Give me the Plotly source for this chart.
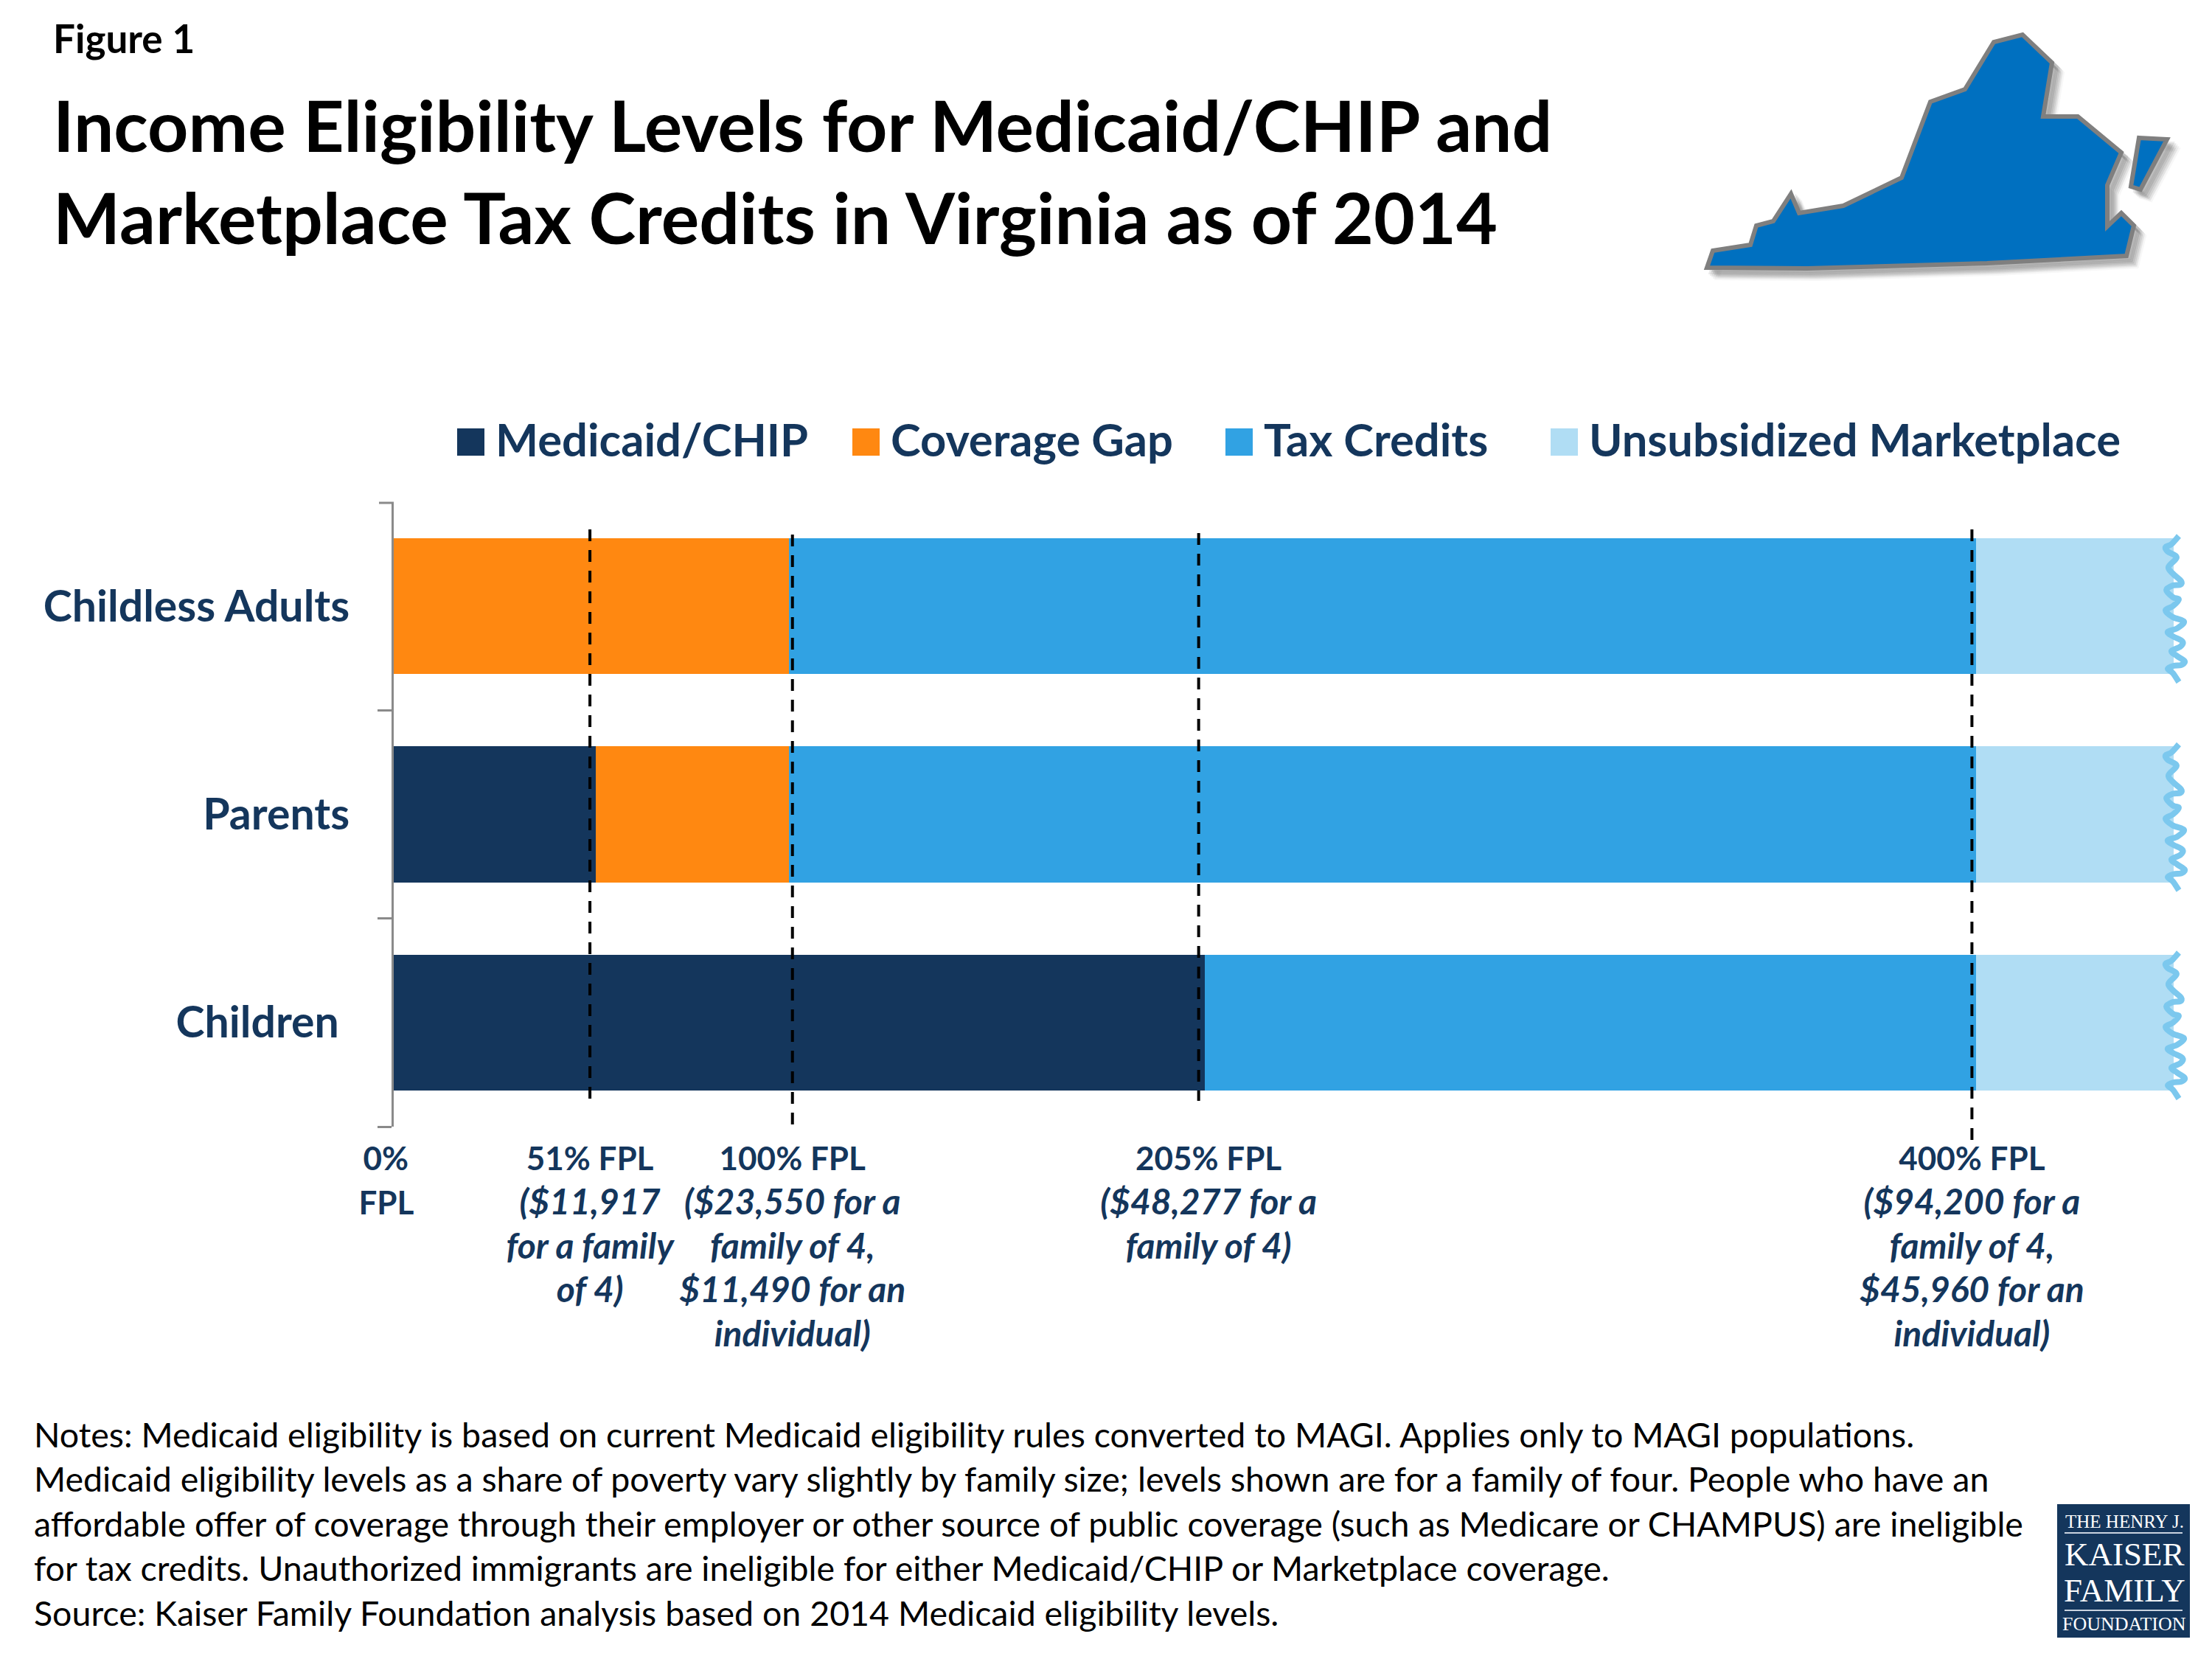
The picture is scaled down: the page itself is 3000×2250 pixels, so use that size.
import plotly.graph_objects as go

# values are % of the federal poverty level
groups = ["Childless Adults", "Parents", "Children"]
group_labels = ["Childless Adults", "Parents", "Children\u00a0"]
medicaid = [0, 51, 205]
coverage_gap = [100, 49, 0]
tax_credits = [300, 300, 195]
unsubsidized = [50, 50, 50]

series_names = ["Medicaid/CHIP", "Coverage Gap", "Tax Credits", "Unsubsidized Marketplace"]
series_colors = ["#14365C", "#FF8811", "#31A2E3", "#B0DDF4"]

# dashed lines sit a little off the bar edges in the original
line_x = [49.6, 100.8, 203.5, 399]
line_top = [718, 725, 723, 718]
line_bottom = [1490, 1525, 1493, 1546]

# first line is set a bit smaller and the italics a bit larger, closer to the original's font
B = '<span style="font-size:44px">'
I = '<span style="font-size:48px"><i>'
tick_x = [0, 49.6, 100.8, 206, 399]
tick_text = [
    f"{B}0%\u00a0\u00a0</span><br>{B}FPL\u00a0\u00a0</span>",
    f"{B}51% FPL</span><br>{I}($11,917</i></span><br>{I}for a family</i></span><br>{I}of 4)</i></span>",
    f"{B}100% FPL</span><br>{I}($23,550 for a</i></span><br>{I}family of 4,</i></span><br>{I}$11,490 for an</i></span><br>{I}individual)</i></span>",
    f"{B}205% FPL</span><br>{I}($48,277 for a</i></span><br>{I}family of 4)</i></span>",
    f"{B}400% FPL</span><br>{I}($94,200 for a</i></span><br>{I}family of 4,</i></span><br>{I}$45,960 for an</i></span><br>{I}individual)</i></span>",
]

title_text = "Income Eligibility Levels for Medicaid/CHIP and<br>Marketplace Tax Credits in Virginia as of 2014"
notes_text = (
    "Notes: Medicaid eligibility is based on current Medicaid eligibility rules converted to MAGI. Applies only to MAGI populations.<br>"
    "Medicaid eligibility levels as a share of poverty vary slightly by family size; levels shown are for a family of four. People who have an<br>"
    "affordable offer of coverage through their employer or other source of public coverage (such as Medicare or CHAMPUS) are ineligible<br>"
    "for tax credits. Unauthorized immigrants are ineligible for either Medicaid/CHIP or Marketplace coverage.<br>"
    "Source: Kaiser Family Foundation analysis based on 2014 Medicaid eligibility levels."
)

# outline of the state, in image pixels
va_main = [(2315, 363), (2323, 340), (2374, 332), (2382, 306), (2405, 300), (2429, 263), (2440, 289),
           (2500, 279), (2579, 241), (2618, 138), (2665, 121), (2704, 57), (2743, 47), (2783, 85),
           (2771, 158), (2818, 158), (2877, 207), (2858, 251), (2858, 307), (2877, 289), (2894, 306),
           (2884, 347), (2695, 357), (2451, 364)]
va_shore = [(2901, 187), (2939, 189), (2903, 257), (2890, 253)]

# torn edge at the end of a bar, pixels relative to the first bar
edge_wave = [(2955, 727), (2945, 738), (2937, 742), (2940, 748), (2952, 756), (2941, 769), (2947, 778),
             (2958, 788), (2957, 793), (2947, 794), (2938, 800), (2947, 810), (2955, 813), (2947, 822),
             (2937, 828), (2947, 837), (2962, 843), (2953, 852), (2940, 857), (2947, 863), (2960, 870),
             (2957, 877), (2945, 883), (2953, 890), (2963, 897), (2958, 902), (2948, 903), (2940, 907),
             (2947, 913), (2955, 925)]
bar_step = 282.5

PAGE_MARGIN = 8  # the browser's body margin pushes the figure in by this much


def fx(x):
    return (x - PAGE_MARGIN) / 3000


def fy(y):
    return 1 - (y - PAGE_MARGIN) / 2250


def poly_path(points):
    return "M" + "L".join(f"{fx(x):.5f},{fy(y):.5f}" for x, y in points) + "Z"


def smooth_path(points):
    # catmull-rom through the points
    d = f"M{fx(points[0][0]):.5f},{fy(points[0][1]):.5f}"
    for i in range(len(points) - 1):
        p0 = points[max(i - 1, 0)]
        p1 = points[i]
        p2 = points[i + 1]
        p3 = points[min(i + 2, len(points) - 1)]
        c1 = (p1[0] + (p2[0] - p0[0]) / 6, p1[1] + (p2[1] - p0[1]) / 6)
        c2 = (p2[0] - (p3[0] - p1[0]) / 6, p2[1] - (p3[1] - p1[1]) / 6)
        d += f"C{fx(c1[0]):.5f},{fy(c1[1]):.5f} {fx(c2[0]):.5f},{fy(c2[1]):.5f} {fx(p2[0]):.5f},{fy(p2[1]):.5f}"
    return d


fig = go.Figure()
for name, values, color in zip(series_names, [medicaid, coverage_gap, tax_credits, unsubsidized], series_colors):
    fig.add_trace(go.Bar(y=groups, x=values, name=name, orientation="h", marker=dict(color=color, line=dict(width=0))))

FONT = "Lato"
NAVY = "#14365C"
AXIS_GRAY = "#8A8A8A"

fig.update_layout(
    width=3000,
    height=2250,
    barmode="stack",
    bargap=0.348,
    showlegend=False,
    paper_bgcolor="white",
    plot_bgcolor="white",
    margin=dict(l=0, r=0, t=0, b=0, autoexpand=False),
    font=dict(family=FONT, color=NAVY),
    title=dict(text=f"<b>{title_text}</b>", x=fx(72), xanchor="left", y=fy(206), yanchor="top",
               font=dict(family=FONT, size=96.5, color="black")),
    xaxis=dict(domain=[fx(534), fx(2948)], range=[0, 450], showgrid=False, zeroline=False, showline=False,
               tickmode="array", tickvals=tick_x, ticktext=tick_text, ticks="", tickangle=0,
               tickfont=dict(family=FONT, size=46, color=NAVY, weight="bold"), ticklabelstandoff=12),
    yaxis=dict(domain=[fy(1528), fy(681)], categoryorder="array", categoryarray=groups[::-1], showgrid=False,
               zeroline=False, showline=True, linecolor=AXIS_GRAY, linewidth=3, ticks="outside", tickson="boundaries",
               ticklen=19, tickwidth=3, tickcolor=AXIS_GRAY, tickmode="array", tickvals=groups, ticktext=group_labels,
               tickfont=dict(family=FONT, size=59, color=NAVY, weight="bold"), ticklabelstandoff=45),
)

# the top boundary tick does not get drawn by the axis
fig.add_shape(type="line", xref="paper", yref="paper", x0=fx(514), x1=fx(534), y0=fy(682), y1=fy(682),
              line=dict(color=AXIS_GRAY, width=3))

# FPL reference lines
for x, top, bottom in zip(line_x, line_top, line_bottom):
    fig.add_shape(type="line", xref="x", yref="paper", x0=x, x1=x, y0=fy(top), y1=fy(bottom),
                  line=dict(color="black", width=4, dash="16px,12px"))

# torn bar ends
for k in range(3):
    pts = [(x, y + k * bar_step) for x, y in edge_wave]
    fig.add_shape(type="path", xref="paper", yref="paper", path=smooth_path(pts),
                  line=dict(color="#7CC8EE", width=8))

# legend drawn by hand, the library's swatches are too small
legend_x = [620, 1156, 1662, 2103]
for name, color, x in zip(series_names, series_colors, legend_x):
    fig.add_shape(type="rect", xref="paper", yref="paper", x0=fx(x), x1=fx(x + 37), y0=fy(581), y1=fy(618),
                  fillcolor=color, line=dict(width=0))
    fig.add_annotation(text=f"<b>{name}</b>", xref="paper", yref="paper", x=fx(x + 50), y=fy(595), xanchor="left",
                       yanchor="middle", showarrow=False, font=dict(family=FONT, size=61.5, color=NAVY))

# state shape with a soft shadow
for dx, alpha in [(14, 0.05), (12, 0.07), (10, 0.09), (8, 0.11), (6, 0.13)]:
    for pts in (va_main, va_shore):
        fig.add_shape(type="path", xref="paper", yref="paper", path=poly_path([(x + dx, y + dx) for x, y in pts]),
                      fillcolor=f"rgba(90,90,90,{alpha})", line=dict(color=f"rgba(90,90,90,{alpha})", width=6))
for pts in (va_main, va_shore):
    fig.add_shape(type="path", xref="paper", yref="paper", path=poly_path(pts), fillcolor="#0070C0",
                  line=dict(color="#7F7F7F", width=6))

fig.add_annotation(text="<b>Figure 1</b>", xref="paper", yref="paper", x=fx(70), y=fy(52), xanchor="left",
                   yanchor="middle", showarrow=False, font=dict(family=FONT, size=53, color="black"))
fig.add_annotation(text=notes_text, xref="paper", yref="paper", x=fx(44), y=fy(1915), xanchor="left", yanchor="top",
                   align="left", showarrow=False, font=dict(family=FONT, size=46.5, color="black"))

# logo
fig.add_shape(type="rect", xref="paper", yref="paper", x0=fx(2790), x1=fx(2970), y0=fy(2040), y1=fy(2221),
              fillcolor="#14365C", line=dict(width=0))
for y in (2079, 2184):
    fig.add_shape(type="line", xref="paper", yref="paper", x0=fx(2800), x1=fx(2960), y0=fy(y), y1=fy(y),
                  line=dict(color="#C9D3DF", width=2))
logo_lines = [("THE HENRY J.", 2063, 25), ("KAISER", 2108, 45), ("FAMILY", 2157, 45), ("FOUNDATION", 2202, 26)]
for text, y, size in logo_lines:
    fig.add_annotation(text=text, xref="paper", yref="paper", x=fx(2881), y=fy(y), xanchor="center", yanchor="middle",
                       showarrow=False, font=dict(family="Liberation Serif", size=size, color="white"))

fig.write_html("out.html")
